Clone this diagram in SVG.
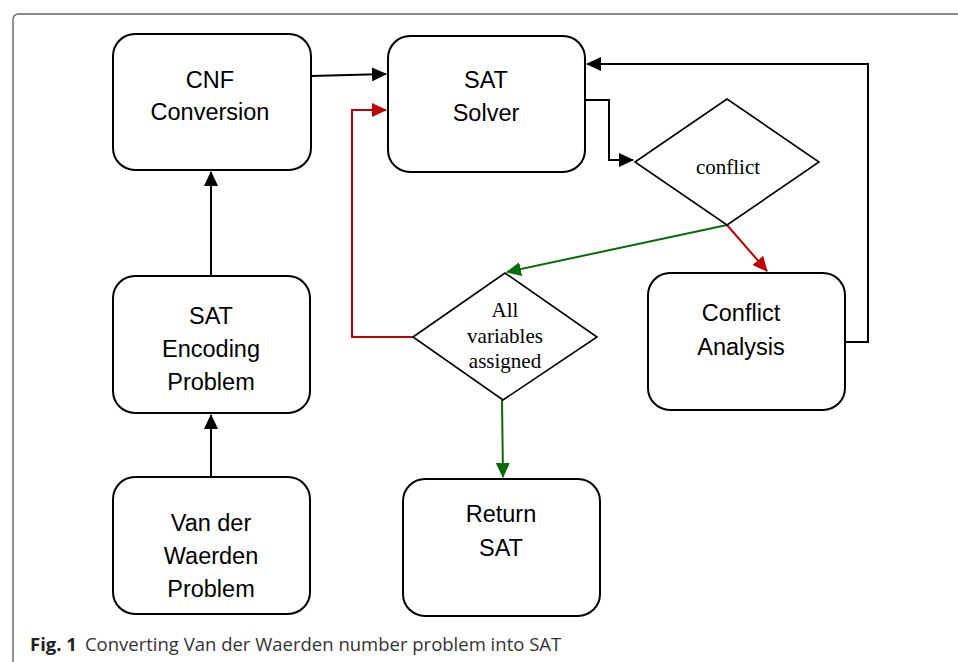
<svg xmlns="http://www.w3.org/2000/svg" width="958" height="662" viewBox="0 0 958 662">
<style>
.box{fill:#fff;stroke:#000;stroke-width:2}
.dia{fill:#fff;stroke:#000;stroke-width:1.6}
.t{font-family:"Liberation Sans","Open Sans",sans-serif;font-size:23.5px;fill:#000;text-anchor:middle}
.s{font-family:"Liberation Serif","Times New Roman",serif;font-size:21px;fill:#000;text-anchor:middle}
.k{fill:none;stroke:#000;stroke-width:2}
.r{fill:none;stroke:#c00000;stroke-width:2}
.g{fill:none;stroke:#0a6b0a;stroke-width:2}
.cap{font-family:"Open Sans","Liberation Sans",sans-serif;font-size:18.5px;fill:#333}
</style>
<defs>
<marker id="ak" markerUnits="userSpaceOnUse" markerWidth="16" markerHeight="14" refX="14" refY="7" orient="auto"><path d="M0,0 L15,7 L0,14 Z" fill="#000"/></marker>
<marker id="ar" markerUnits="userSpaceOnUse" markerWidth="16" markerHeight="14" refX="14" refY="7" orient="auto"><path d="M0,0 L15,7 L0,14 Z" fill="#c00000"/></marker>
<marker id="ag" markerUnits="userSpaceOnUse" markerWidth="16" markerHeight="14" refX="14" refY="7" orient="auto"><path d="M0,0 L15,7 L0,14 Z" fill="#0a6b0a"/></marker>
</defs>
<rect width="958" height="662" fill="#fff"/>
<path d="M13,662 V20 Q13,14 19,14 H958" fill="none" stroke="#666" stroke-width="1.4"/>
<g id="edges">
<path class="k" d="M311,76 L386,74" marker-end="url(#ak)"/>
<path class="k" d="M211,276 V172" marker-end="url(#ak)"/>
<path class="k" d="M211,477 V415" marker-end="url(#ak)"/>
<path class="k" d="M585,100 H609 V160 H633" marker-end="url(#ak)"/>
<path class="k" d="M845,342 H868 V64 H587" marker-end="url(#ak)"/>
<path class="g" d="M727,225 L507,272" marker-end="url(#ag)"/>
<path class="r" d="M727,225 L767,271" marker-end="url(#ar)"/>
<path class="r" d="M413,337 H352 V110 H386" marker-end="url(#ar)"/>
<path class="g" d="M502,400 L503,477" marker-end="url(#ag)"/>
</g>
<g id="cnf"><rect class="box" x="113" y="34" width="198" height="136" rx="22"/><text class="t" x="210" y="88">CNF</text><text class="t" x="210" y="120">Conversion</text></g>
<g id="solver"><rect class="box" x="388" y="36" width="197" height="136" rx="22"/><text class="t" x="486" y="88">SAT</text><text class="t" x="486" y="121">Solver</text></g>
<g id="encoding"><rect class="box" x="113" y="276" width="197" height="137" rx="22"/><text class="t" x="211" y="324">SAT</text><text class="t" x="211" y="357">Encoding</text><text class="t" x="211" y="390">Problem</text></g>
<g id="vdw"><rect class="box" x="113" y="477" width="197" height="137" rx="22"/><text class="t" x="211" y="531">Van der</text><text class="t" x="211" y="564">Waerden</text><text class="t" x="211" y="597">Problem</text></g>
<g id="ret"><rect class="box" x="403" y="479" width="197" height="137" rx="22"/><text class="t" x="501" y="522">Return</text><text class="t" x="501" y="556">SAT</text></g>
<g id="analysis"><rect class="box" x="648" y="273" width="197" height="137" rx="22"/><text class="t" x="741" y="321">Conflict</text><text class="t" x="741" y="355">Analysis</text></g>
<g id="conflict"><path class="dia" d="M635,162 L727,99 L819,162 L727,225 Z"/><text class="s" x="728" y="174">conflict</text></g>
<g id="allvars"><path class="dia" d="M413,337 L505,273 L597,337 L503,400 Z"/><text class="s" x="505" y="317">All</text><text class="s" x="505" y="343">variables</text><text class="s" x="505" y="368">assigned</text></g>
<text class="cap" x="30" y="651"><tspan font-weight="bold" fill="#222">Fig. 1</tspan><tspan dx="8">Converting Van der Waerden number problem into SAT</tspan></text>
</svg>
